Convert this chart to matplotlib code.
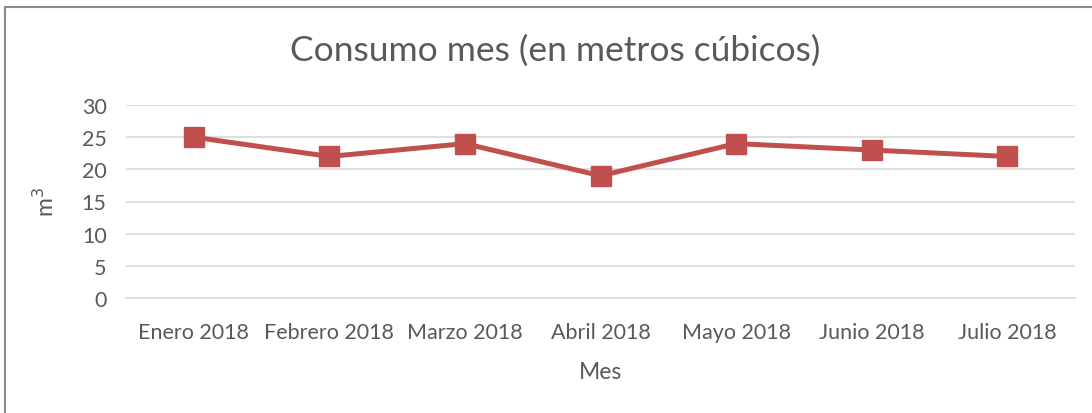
import matplotlib.pyplot as plt
from matplotlib.patches import Rectangle

meses = ['Enero 2018', 'Febrero 2018', 'Marzo 2018', 'Abril 2018',
         'Mayo 2018', 'Junio 2018', 'Julio 2018']
consumo = [25, 22, 24, 19, 24, 23, 22]
y_ticks = [0, 5, 10, 15, 20, 25, 30]

texto = '#595959'
rojo = '#C0504D'
rejilla = '#D9D9D9'

plt.rcParams['font.family'] = ['Lato', 'DejaVu Sans']

fig = plt.figure(figsize=(10.92, 4.14), dpi=100)
ax = fig.add_axes([126 / 1092, 1 - 299 / 414, 949 / 1092, 193 / 414])

x = range(len(meses))
ax.plot(x, consumo, color=rojo, linewidth=3.6, marker='s', markersize=14.5,
        markerfacecolor=rojo, markeredgecolor=rojo, zorder=3)

ax.set_xlim(-0.5, len(meses) - 0.5)
ax.set_ylim(0, 30)
ax.set_yticks(y_ticks)
ax.set_xticks(list(x))
ax.set_xticklabels(meses)
ax.tick_params(axis='both', length=0, labelsize=15.5, colors=texto)
ax.tick_params(axis='x', pad=17)
ax.tick_params(axis='y', pad=14)

ax.grid(axis='y', color=rejilla, linewidth=1.2)
ax.set_axisbelow(True)
for lado in ['top', 'right', 'left']:
    ax.spines[lado].set_visible(False)
ax.spines['bottom'].set_color(rejilla)
ax.spines['bottom'].set_linewidth(1.2)

ax.set_xlabel('Mes', fontsize=16.5, color=texto, labelpad=14)
ax.set_ylabel('m$^3$', fontsize=16.5, color=texto, labelpad=17)

fig.text(555 / 1092, 1 - 51 / 414, 'Consumo mes (en metros cúbicos)',
         ha='center', va='center', fontsize=25.5, color=texto)

# marco del gráfico
fig.patches.append(Rectangle((4.5 / 1092, -0.1), 1.2, 1 - 7.5 / 414 + 0.1,
                             transform=fig.transFigure, fill=False,
                             edgecolor='#8C8C8C', linewidth=1.5))

fig.savefig('out.png', dpi=100)
